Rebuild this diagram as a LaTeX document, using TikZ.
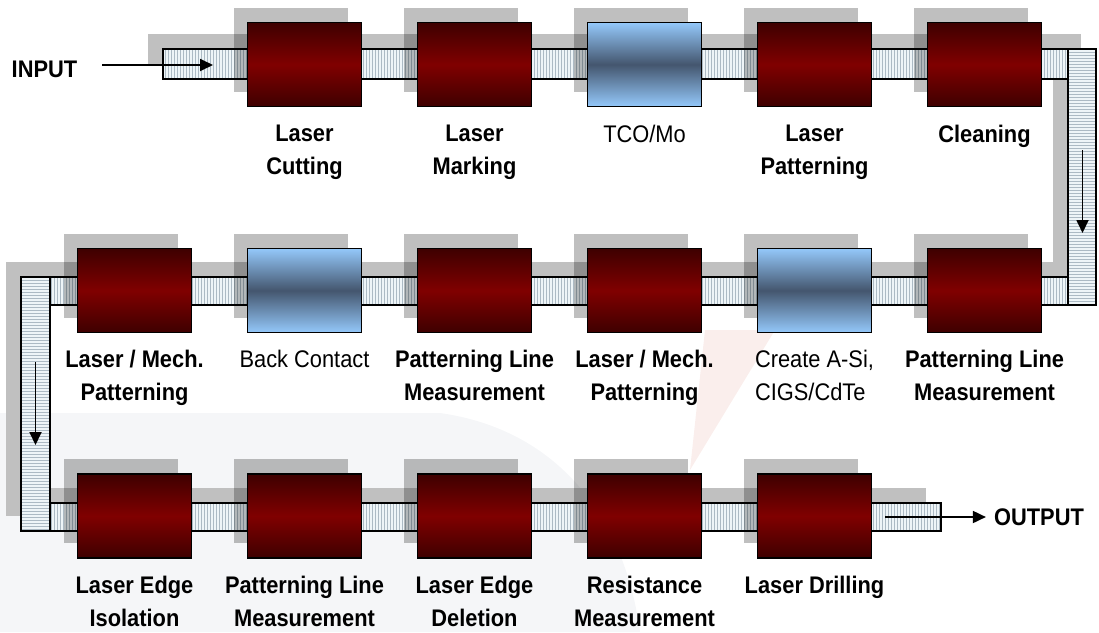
\documentclass[tikz,border=0pt]{standalone}
\usepackage{fontspec}
\setmainfont{Liberation Sans}
\newfontfamily\narrowsans[FakeStretch=0.91]{Liberation Sans}
\usepackage{tikz}
\usetikzlibrary{arrows.meta, positioning, patterns, shadows}
\usepackage{xcolor}
\definecolor{maroondark}{RGB}{62,0,0}
\definecolor{maroonmid}{RGB}{128,0,0}
\definecolor{skylight}{RGB}{148,200,250}
\definecolor{slatemid}{RGB}{68,86,110}
\definecolor{beltfill}{RGB}{238,245,248}
\definecolor{beltline}{RGB}{172,186,196}
\definecolor{shadowgray}{RGB}{192,192,192}
\definecolor{wmgray}{RGB}{245,246,248}
\definecolor{wmpink}{RGB}{250,238,236}

\begin{document}
\begin{tikzpicture}[x=1pt, y=-1pt,
  redbox/.style={rectangle, draw=black, line width=1.5pt, outer sep=0pt, minimum width=114pt, minimum height=84pt, top color=maroondark, bottom color=maroondark, middle color=maroonmid, general shadow={shadow xshift=-14pt, shadow yshift=15pt, fill=black, fill opacity=0.25}},
  bluebox/.style={redbox, top color=skylight, bottom color=skylight, middle color=slatemid},
  belt/.style={draw=black, line width=1.5pt, preaction={fill=beltfill}, pattern=vertical lines, pattern color=beltline},
  beltv/.style={belt, pattern=horizontal lines},
  beltshade/.style={fill=shadowgray},
  lbl/.style={font=\narrowsans\fontsize{24}{33}\selectfont\bfseries, align=center, inner sep=0pt},
  lblplain/.style={font=\narrowsans\fontsize{24}{33}\selectfont, align=center, inner sep=0pt},
  arrow/.style={-{Triangle[length=13pt, width=12pt]}, line width=1.8pt, black},
]
  \useasboundingbox (0,0) rectangle (1099,632);

  % faint watermark
  \fill[wmgray] (0,413) -- (440,413) .. controls (560,430) and (625,520) .. (640,632) -- (0,632) -- cycle;
  \fill[wmpink] (705,330) -- (775,330) -- (690,470) -- cycle;

  % conveyor belts
  \foreach \xa/\ya/\xb/\yb in {163/49/1068/79, 1068/49/1096/305, 50/277/1068/305, 21/277/50/531, 50/503/941/531}
    \fill[beltshade] (\xa-15,\ya-15) rectangle (\xb-15,\yb-15);
  \draw[belt] (163,49) rectangle (1068,79);
  \draw[beltv] (1068,49) rectangle (1096,305);
  \draw[belt] (50,277) rectangle (1068,305);
  \draw[beltv] (21,277) rectangle (50,531);
  \draw[belt] (50,503) rectangle (941,531);

  % row 1
  \node[redbox] (cut) at (304.5,64.5) {};
  \node[redbox, right=56pt of cut] (mark) {};
  \node[bluebox, right=56pt of mark] (tco) {};
  \node[redbox, right=56pt of tco] (patA) {};
  \node[redbox, right=56pt of patA] (clean) {};

  % row 2
  \node[redbox] (mechB) at (134.5,290.5) {};
  \node[bluebox, right=56pt of mechB] (back) {};
  \node[redbox, right=56pt of back] (measB) {};
  \node[redbox, right=56pt of measB] (mechA) {};
  \node[bluebox, right=56pt of mechA] (cigs) {};
  \node[redbox, right=56pt of cigs] (measA) {};

  % row 3
  \node[redbox] (isol) at (134.5,516) {};
  \node[redbox, right=56pt of isol] (measC) {};
  \node[redbox, right=56pt of measC] (dele) {};
  \node[redbox, right=56pt of dele] (resi) {};
  \node[redbox, right=56pt of resi] (drill) {};

  \node[lbl, below=18pt of cut] {Laser\\Cutting};
  \node[lbl, below=18pt of mark] {Laser\\Marking};
  \node[lblplain, below=18pt of tco] {TCO/Mo};
  \node[lbl, below=18pt of patA] {Laser\\Patterning};
  \node[lbl, below=18pt of clean] {Cleaning};

  \node[lbl, below=17pt of mechB] {Laser / Mech.\\Patterning};
  \node[lblplain, below=17pt of back] {Back Contact};
  \node[lbl, below=17pt of measB] {Patterning Line\\Measurement};
  \node[lbl, below=17pt of mechA] {Laser / Mech.\\Patterning};
  \node[lblplain, align=left, below=17pt of cigs] {Create A-Si,\\CIGS/CdTe};
  \node[lbl, below=17pt of measA] {Patterning Line\\Measurement};

  \node[lbl, below=18pt of isol] {Laser Edge\\Isolation};
  \node[lbl, below=18pt of measC] {Patterning Line\\Measurement};
  \node[lbl, below=18pt of dele] {Laser Edge\\Deletion};
  \node[lbl, below=18pt of resi] {Resistance\\Measurement};
  \node[lbl, below=18pt of drill] {Laser Drilling};

  % flow arrows
  \node[lbl] (inlbl) at (44.5,69) {INPUT};
  \coordinate (inA) at (102,65);
  \coordinate (inB) at (213,65);
  \draw[arrow] (inA) -- (inB);

  \coordinate (dnA) at (1082.5,150);
  \coordinate (dnB) at (1082.5,233);
  \draw[arrow] (dnA) -- (dnB);

  \coordinate (lfA) at (35.5,362);
  \coordinate (lfB) at (35.5,445);
  \draw[arrow] (lfA) -- (lfB);

  \node[lbl] (outlbl) at (1039,517) {OUTPUT};
  \coordinate (outA) at (885,517);
  \draw[arrow, shorten >=8pt] (outA) -- (outlbl);
\end{tikzpicture}
\end{document}
